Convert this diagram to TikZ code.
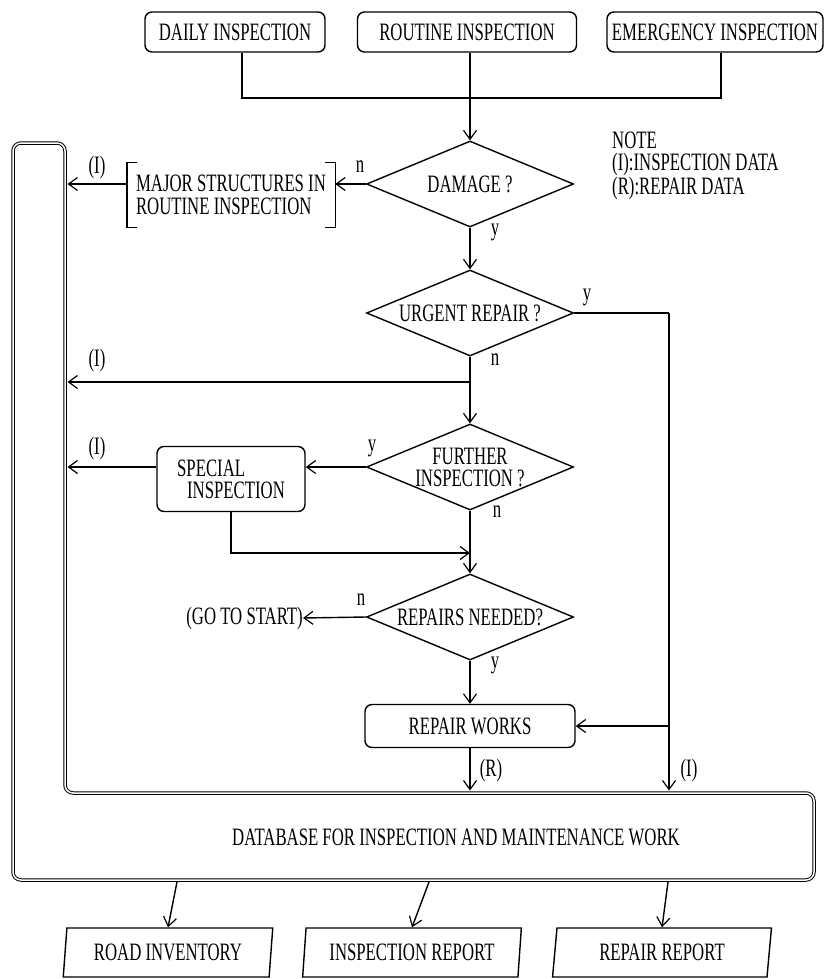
\documentclass[tikz,border=0pt]{standalone}
\usepackage{fontspec}
\setmainfont{Liberation Serif}[FakeStretch=0.67]
\usetikzlibrary{arrows.meta,shapes.geometric}
\begin{document}
\begin{tikzpicture}[x=1pt,y=-1pt,
  every node/.style={font=\fontsize{25}{23}\selectfont, inner sep=0pt},
  ln/.style={line width=1.4pt},
  arr/.style={ln, -{Straight Barb[length=9pt,width=13pt,line width=1.2pt]}},
  rbox/.style={draw, ln, rounded corners=7pt, minimum height=40pt},
  dia/.style={draw, ln, diamond, shape aspect=2.4, minimum width=207pt, minimum height=86pt, align=center},
  para/.style={draw, ln, trapezium, trapezium left angle=81, trapezium right angle=99,
    trapezium stretches=true, minimum height=49pt},
  dbl/.style={line width=1pt, double, double distance=1.5pt, rounded corners=8pt}
]
\useasboundingbox (0,0) rectangle (826,979);

% top boxes
\node[rbox, minimum width=180pt] (daily) at (235,32) {DAILY INSPECTION};
\node[rbox, minimum width=219pt] (routine) at (467,32) {ROUTINE INSPECTION};
\node[rbox, minimum width=216pt] (emerg) at (715,32) {EMERGENCY INSPECTION};

% note
\node[anchor=north west, align=left, font=\fontsize{25}{22}\selectfont] (note) at (612,132)
  {NOTE\\(I):INSPECTION DATA\\(R):REPAIR DATA};

% diamonds
\node[dia] (d1) at (470,184) {DAMAGE ?};
\node[dia] (d2) at (470,313) {URGENT REPAIR ?};
\node[dia, font=\fontsize{25}{22}\selectfont] (d3) at (470,467) {FURTHER\\INSPECTION ?};
\node[dia] (d4) at (470,617) {REPAIRS NEEDED?};

% boxes
\node[minimum width=208pt, minimum height=65pt, align=left] (maj) at (231,195)
  {MAJOR STRUCTURES IN\\ROUTINE INSPECTION};
\draw[ln] ([xshift=10pt]maj.north west) -- (maj.north west) -- (maj.south west) -- ([xshift=10pt]maj.south west);
\draw[ln] ([xshift=-10pt]maj.north east) -- (maj.north east) -- (maj.south east) -- ([xshift=-10pt]maj.south east);

\node[rbox, minimum width=148pt, minimum height=65pt, align=left, font=\fontsize{25}{22}\selectfont] (sp) at (231,479)
  {SPECIAL\\\hspace*{10pt}INSPECTION};
\node[rbox, minimum width=210pt, minimum height=43pt] (rw) at (470,726) {REPAIR WORKS};
\node[anchor=east] (gts) at (303,618) {(GO TO START)};

% database
\draw[dbl] (13,500) -- (13,143) -- (65,143) -- (65,793) -- (814,793) -- (814,880) -- (13,880) -- cycle;
\node (db) at (456,837) {DATABASE FOR INSPECTION AND MAINTENANCE WORK};
\coordinate (inL) at (67.5,0);
\coordinate (dbT) at (0,790.5);

% outputs
\node[para, minimum width=210pt] (ri) at (168,952.5) {ROAD INVENTORY};
\node[para, minimum width=219pt] (ir) at (412,952.5) {INSPECTION REPORT};
\node[para, minimum width=219pt] (rr) at (662,952.5) {REPAIR REPORT};

% connectors
\coordinate (mrg) at (470,98);
\draw[ln] ([xshift=7pt]daily.south) |- (mrg) -| ([xshift=6pt]emerg.south);
\draw[arr] (routine.south -| d1.north) -- (d1.north);

\draw[arr] (d1.west) -- (d1.west -| maj.east);
\draw[arr] (d1.west -| maj.west) -- (d1.west -| inL);
\node (i1) at (97,167) {(I)};
\node (n1) at (360,167) {n};
\draw[arr] (d1.south) -- (d2.north);
\node (y1) at (495,232) {y};

\coordinate (rx) at (669,313);
\draw[ln] (d2.east) -- (rx);
\draw[arr] (rx) -- (rx |- dbT);
\draw[arr] (rx |- rw.east) -- (rw.east);
\node (y2) at (587,297) {y};
\node (n2) at (495,360) {n};
\draw[arr] (d2.south) -- (d3.north);
\coordinate (b1) at (470,382);
\draw[arr] (b1) -- (b1 -| inL);
\node (i2) at (97,360) {(I)};

\draw[arr] (d3.west) -- (d3.west -| sp.east);
\draw[arr] (d3.west -| sp.west) -- (d3.west -| inL);
\node (i3) at (97,448) {(I)};
\node (y3) at (372,448) {y};
\node (n3) at (497,512) {n};
\draw[arr] (d3.south) -- (d4.north);
\coordinate (j1) at (470,553);
\draw[arr] (sp.south) |- (j1);

\draw[arr] (d4.west) -- (gts.east);
\node (n4) at (361,600) {n};
\node (y4) at (495,665) {y};
\draw[arr] (d4.south) -- (rw.north);
\draw[arr] (rw.south) -- (rw.south |- dbT);
\node (r1) at (491,770) {(R)};
\node (i4) at (689,770) {(I)};

\coordinate (o1) at (177,882);
\coordinate (o2) at (429,882);
\coordinate (o3) at (668,882);
\draw[arr] (o1) -- (ri.north);
\draw[arr] (o2) -- (ir.north);
\draw[arr] (o3) -- (rr.north);
\end{tikzpicture}
\end{document}
